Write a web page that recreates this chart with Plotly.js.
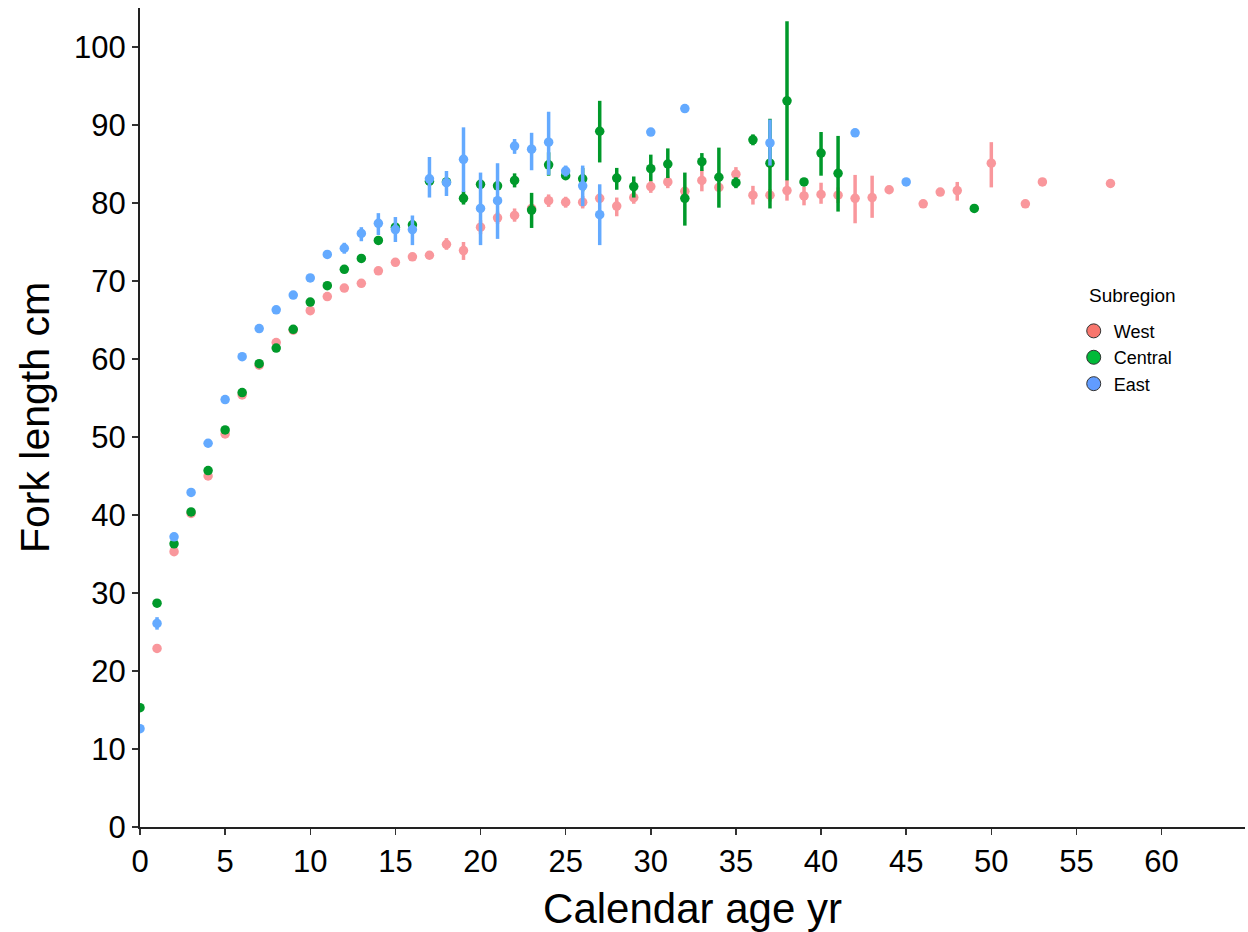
<!DOCTYPE html>
<html>
<head>
<meta charset="utf-8">
<script src="https://cdn.plot.ly/plotly-3.0.1.min.js"></script>
<style>html,body{margin:0;padding:0;background:#fff;}#chart{width:1248px;height:932px;}</style>
</head>
<body>
<div id="chart"></div>
<script>
// ---- Data (calendar age, mean fork length, lower, upper) ----
const westAge  = [1,2,3,4,5,6,7,8,9,10,11,12,13,14,15,16,17,18,19,20,21,22,23,24,25,26,27,28,29,30,31,32,33,34,35,36,37,38,39,40,41,42,43,44,46,47,48,50,52,53,57];
const westFL   = [22.9,35.3,40.2,45.0,50.4,55.4,59.2,62.1,63.7,66.2,68.0,69.1,69.7,71.3,72.4,73.1,73.3,74.7,73.9,76.9,78.1,78.4,79.3,80.3,80.1,80.1,80.6,79.6,80.7,82.1,82.7,81.5,82.9,82.0,83.7,81.0,81.0,81.6,80.9,81.1,81.0,80.6,80.7,81.7,79.9,81.4,81.6,85.1,79.9,82.7,82.5];
const westLo   = [null,null,null,null,null,null,null,null,null,null,null,null,null,null,null,null,null,74.0,72.7,76.0,77.3,77.6,null,79.5,79.4,79.3,null,78.3,79.9,81.3,81.9,null,81.5,null,82.8,79.8,80.2,80.3,79.7,79.9,80.0,77.4,78.1,null,null,null,80.3,82.0,null,null,null];
const westHi   = [null,null,null,null,null,null,null,null,null,null,null,null,null,null,null,null,null,75.5,75.0,77.8,78.9,79.3,null,81.1,80.8,80.9,null,80.7,81.5,82.9,83.5,null,84.2,null,84.6,82.2,81.8,83.0,82.1,82.6,82.0,83.6,83.5,null,null,null,82.7,87.8,null,null,null];

const centralAge = [0,1,2,3,4,5,6,7,8,9,10,11,12,13,14,15,16,17,18,19,20,21,22,23,24,25,26,27,28,29,30,31,32,33,34,35,36,37,38,39,40,41,49];
const centralFL  = [15.3,28.7,36.3,40.4,45.7,50.9,55.7,59.4,61.4,63.8,67.3,69.4,71.5,72.9,75.2,76.9,77.2,82.8,82.7,80.6,82.4,82.2,82.9,79.1,84.9,83.5,83.1,89.2,83.2,82.1,84.4,85.0,80.6,85.3,83.3,82.6,88.1,85.1,93.1,82.7,86.4,83.8,79.3];
const centralLo  = [null,null,null,null,null,null,null,null,null,null,null,null,null,null,null,null,null,null,null,79.8,null,null,82.0,76.8,83.5,null,81.5,85.2,81.7,80.7,82.8,83.2,77.1,84.1,79.4,81.9,87.4,79.3,82.9,null,83.5,78.9,null];
const centralHi  = [null,null,null,null,null,null,null,null,null,null,null,null,null,null,null,null,null,null,null,81.5,null,null,83.8,81.3,86.5,null,84.5,93.1,84.5,83.4,86.2,87.0,83.9,86.4,87.1,83.3,88.8,90.8,103.3,null,89.1,88.6,null];

const eastAge = [0,1,2,3,4,5,6,7,8,9,10,11,12,13,14,15,16,17,18,19,20,21,22,23,24,25,26,27,30,32,37,42,45];
const eastFL  = [12.6,26.1,37.2,42.9,49.2,54.8,60.3,63.9,66.3,68.2,70.4,73.4,74.2,76.1,77.4,76.6,76.6,83.1,82.6,85.6,79.3,80.3,87.3,86.9,87.8,84.1,82.2,78.5,89.1,92.1,87.7,89.0,82.7];
const eastLo  = [null,25.3,null,null,null,null,null,null,null,null,null,null,73.5,75.1,75.9,75.0,74.6,80.7,80.9,81.4,74.6,75.4,86.3,84.2,83.6,83.4,79.6,74.6,null,null,84.8,null,null];
const eastHi  = [null,26.9,null,null,null,null,null,null,null,null,null,null,74.9,76.9,78.7,78.2,78.4,85.9,84.1,89.7,83.9,85.1,88.2,89.0,91.7,84.8,84.8,82.4,null,null,90.7,null,null];

const seriesNames = ['West','Central','East'];
const legendTitle = 'Subregion';
const xTicks = [0,5,10,15,20,25,30,35,40,45,50,55,60];
const yTicks = [0,10,20,30,40,50,60,70,80,90,100];

// ---- Styles ----
const plotColors   = ['#F9979C','#00992A','#64AAFF'];
const legendColors = ['#F8766D','#00BA38','#619CFF'];
const FONT = 'Liberation Sans, Arial, sans-serif';

function plus(fl, hi){ return fl.map((v,i)=> hi[i]==null ? 0 : +(hi[i]-v).toFixed(2)); }
function minus(fl, lo){ return fl.map((v,i)=> lo[i]==null ? 0 : +(v-lo[i]).toFixed(2)); }

const data = [[westAge,westFL,westLo,westHi],[centralAge,centralFL,centralLo,centralHi],[eastAge,eastFL,eastLo,eastHi]];
const traces = [];
data.forEach((d,k)=>{
  traces.push({
    type:'scatter', mode:'markers', name:seriesNames[k], showlegend:false,
    x:d[0], y:d[1],
    marker:{color:plotColors[k], size:9.5, line:{width:0}},
    error_y:{type:'data', symmetric:false, array:plus(d[1],d[3]), arrayminus:minus(d[1],d[2]),
             color:plotColors[k], thickness:3.5, width:0},
    hoverinfo:'x+y'
  });
});
seriesNames.forEach((n,k)=>{
  traces.push({
    type:'scatter', mode:'markers', name:n, x:[null], y:[null], showlegend:true,
    marker:{color:legendColors[k], size:14, line:{width:1, color:'#333'}}
  });
});

const layout = {
  width:1248, height:932,
  margin:{l:140, r:3, t:8, b:105},
  paper_bgcolor:'#fff', plot_bgcolor:'#fff',
  font:{family:FONT, color:'#000'},
  showlegend:true,
  xaxis:{
    range:[0,64.9], tickvals:xTicks, ticktext:xTicks.map(String),
    showgrid:false, zeroline:false, showline:true, linecolor:'#222', linewidth:2,
    ticks:'outside', ticklen:6, tickwidth:1.5, tickcolor:'#333',
    tickfont:{size:31, family:FONT, color:'#000'},
    title:{text:'Calendar age yr', font:{size:42, family:FONT, color:'#000'}, standoff:20}
  },
  yaxis:{
    range:[0,105], tickvals:yTicks, ticktext:yTicks.map(String),
    showgrid:false, zeroline:false, showline:true, linecolor:'#222', linewidth:2,
    ticks:'outside', ticklen:6, tickwidth:1.5, tickcolor:'#333',
    tickfont:{size:31, family:FONT, color:'#000'},
    title:{text:'Fork length cm', font:{size:41, family:FONT, color:'#000'}, standoff:12}
  },
  legend:{
    x:0.845, y:0.628, xanchor:'left', yanchor:'top',
    bgcolor:'rgba(0,0,0,0)',
    font:{size:18, family:FONT, color:'#000'},
    tracegroupgap:0, itemwidth:30
  },
  annotations:[{
    text:legendTitle, xref:'paper', yref:'paper',
    x:(1087-140)/1105, y:(827-295)/819, xanchor:'left', yanchor:'middle',
    showarrow:false, font:{size:19, family:FONT, color:'#000'}
  }]
};

Plotly.newPlot('chart', traces, layout, {displayModeBar:false, staticPlot:true});
</script>
</body>
</html>
